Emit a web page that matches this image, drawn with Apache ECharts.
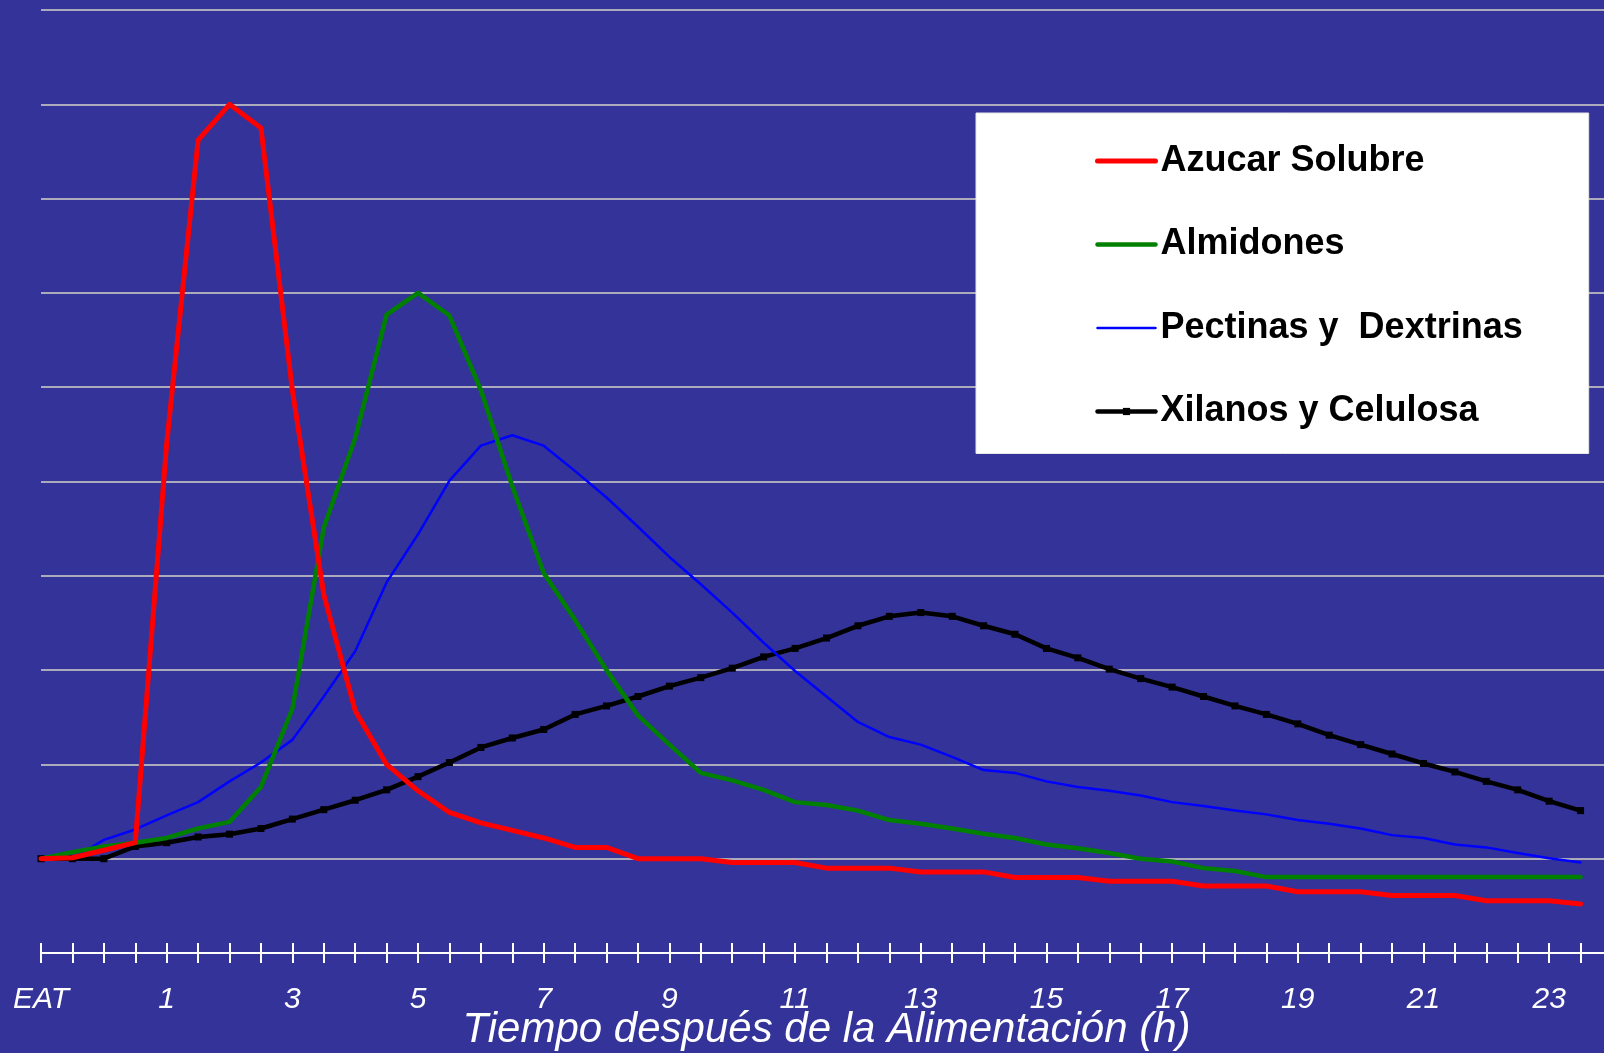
<!DOCTYPE html>
<html lang="es">
<head>
<meta charset="utf-8">
<title>Tiempo después de la Alimentación</title>
<script src="https://cdn.jsdelivr.net/npm/echarts@6/dist/echarts.min.js"></script>
<style>
  html, body { margin: 0; padding: 0; background: #333399; }
  #chart { width: 1604px; height: 1053px; }
</style>
</head>
<body>
<div id="chart"></div>
<script>
// Sampling times (h), every half hour; the first sample is the "EAT" reading
const hours = [-1, -0.5, 0, 0.5, 1, 1.5, 2, 2.5, 3, 3.5,
  4, 4.5, 5, 5.5, 6, 6.5, 7, 7.5, 8, 8.5,
  9, 9.5, 10, 10.5, 11, 11.5, 12, 12.5, 13, 13.5,
  14, 14.5, 15, 15.5, 16, 16.5, 17, 17.5, 18, 18.5,
  19, 19.5, 20, 20.5, 21, 21.5, 22, 22.5, 23, 23.5];

// Labelled ticks on the time axis
const labelHours = [-1, 1, 3, 5, 7, 9, 11, 13, 15, 17, 19, 21, 23];
const labelTexts = ['EAT', '1', '3', '5', '7', '9', '11', '13', '15', '17', '19', '21', '23'];

const seriesNames = ['Azucar Solubre', 'Almidones', 'Pectinas y  Dextrinas', 'Xilanos y Celulosa'];

const azucar = [0, 0.1, 0.9, 1.7, 44, 76.2, 80, 77.5, 49.7, 28,
  15.7, 10, 7.2, 4.9, 3.8, 3.0, 2.2, 1.2, 1.2, 0,
  0, 0, -0.4, -0.4, -0.4, -1.0, -1.0, -1.0, -1.4, -1.4,
  -1.4, -2.0, -2.0, -2.0, -2.4, -2.4, -2.4, -2.9, -2.9, -2.9,
  -3.5, -3.5, -3.5, -3.9, -3.9, -3.9, -4.45, -4.45, -4.45, -4.8];

const almidones = [0, 0.7, 1.3, 1.7, 2.2, 3.2, 3.9, 7.6, 15.9, 35.1,
  44.6, 57.7, 60.0, 57.6, 49.7, 39.5, 30.3, 25.3, 20.0, 15.2,
  12.1, 9.1, 8.3, 7.3, 6.0, 5.7, 5.1, 4.1, 3.7, 3.2,
  2.65, 2.2, 1.5, 1.1, 0.6, 0, -0.3, -1.0, -1.3, -1.95,
  -1.95, -1.95, -1.95, -1.95, -1.95, -1.95, -1.95, -1.95, -1.95, -1.95];

const pectinas = [0, 0, 2.0, 3.1, 4.6, 6.0, 8.2, 10.2, 12.6, 17.2,
  22.0, 29.3, 34.4, 40.1, 43.8, 44.9, 43.8, 41.1, 38.3, 35.2,
  32.0, 29.1, 26.1, 22.9, 19.9, 17.2, 14.5, 12.9, 12.1, 10.8,
  9.4, 9.1, 8.2, 7.6, 7.2, 6.7, 6.0, 5.6, 5.1, 4.7,
  4.1, 3.7, 3.2, 2.5, 2.2, 1.5, 1.2, 0.6, 0.05, -0.4];

const xilanos = [0, 0, 0, 1.3, 1.7, 2.3, 2.6, 3.2, 4.2, 5.2,
  6.2, 7.3, 8.7, 10.2, 11.8, 12.8, 13.7, 15.3, 16.2, 17.2,
  18.3, 19.2, 20.2, 21.4, 22.3, 23.4, 24.7, 25.7, 26.1, 25.7,
  24.7, 23.8, 22.3, 21.3, 20.1, 19.1, 18.2, 17.2, 16.2, 15.3,
  14.3, 13.1, 12.1, 11.1, 10.1, 9.2, 8.2, 7.3, 6.1, 5.1];

const pairs = vals => hours.map((h, i) => [h, vals[i]]);

const chartHeight = 1053;
const gridTop = 10;
const gridBottom = 100;
const font = '"Liberation Sans", Arial, Helvetica, sans-serif';

const lineColors = ['#ff0000', '#008000', '#0000ff', '#000000'];
const lineWidths = [5, 4.5, 2.5, 4.5];

const chart = echarts.init(document.getElementById('chart'), null, { renderer: 'canvas' });

const baseX = {
  type: 'value',
  min: -1,
  max: 24,
  interval: 0.5,
  splitLine: { show: false }
};

// plain lines in the legend: hide the marker for series drawn without symbols
const noMarker = { opacity: 0 };
const legendLine = k => ({ color: lineColors[k], width: lineWidths[k], cap: 'round' });

chart.setOption({
  backgroundColor: '#333399',
  animation: false,
  grid: {
    left: 41, right: -8, top: gridTop, bottom: gridBottom,
    containLabel: false, outerBoundsMode: 'none'
  },
  xAxis: [
    Object.assign({}, baseX, {
      position: 'bottom',
      axisLine: { show: true, onZero: false, lineStyle: { color: '#ffffff', width: 2 } },
      axisTick: { show: true, inside: false, length: 10, lineStyle: { color: '#ffffff', width: 2 } },
      axisLabel: {
        show: true,
        margin: 32,
        showMinLabel: true,
        showMaxLabel: true,
        color: '#ffffff',
        fontSize: 30,
        fontStyle: 'italic',
        fontFamily: font,
        formatter: v => {
          const k = labelHours.findIndex(h => Math.abs(h - v) < 1e-6);
          return k >= 0 ? labelTexts[k] : '';
        }
      },
      name: 'Tiempo después de la Alimentación (h)',
      nameLocation: 'middle',
      nameGap: 56,
      nameMoveOverlap: false,
      nameTextStyle: { color: '#ffffff', fontSize: 42, fontStyle: 'italic', fontFamily: font }
    }),
    // upper half of the cross-shaped ticks, laid on the same baseline
    Object.assign({}, baseX, {
      position: 'top',
      offset: -(chartHeight - gridTop - gridBottom),
      axisLine: { show: false },
      axisTick: { show: true, inside: false, length: 10, lineStyle: { color: '#ffffff', width: 2 } },
      axisLabel: { show: false }
    })
  ],
  yAxis: {
    type: 'value',
    min: -10,
    max: 90,
    interval: 10,
    axisLine: { show: false },
    axisTick: { show: false },
    axisLabel: { show: false },
    splitLine: { show: true, lineStyle: { color: '#d4d4c8', width: 1.5 } }
  },
  legend: {
    orient: 'vertical',
    left: 976,
    top: 113,
    data: [
      { name: seriesNames[0], itemStyle: noMarker, lineStyle: legendLine(0) },
      { name: seriesNames[1], itemStyle: noMarker, lineStyle: legendLine(1) },
      { name: seriesNames[2], itemStyle: noMarker, lineStyle: legendLine(2) },
      { name: seriesNames[3], lineStyle: legendLine(3) }
    ],
    backgroundColor: '#ffffff',
    borderColor: '#e6e6e6',
    borderWidth: 1,
    borderRadius: 0,
    padding: [28, 66, 22, 119],
    itemWidth: 58,
    itemHeight: 9,
    itemGap: 43.5,
    selectedMode: false,
    textStyle: {
      color: '#000000', fontSize: 36, fontWeight: 'bold', fontFamily: font, lineHeight: 40
    }
  },
  series: [
    {
      name: seriesNames[3], type: 'line', data: pairs(xilanos), z: 2,
      symbol: 'rect', symbolSize: 7, showAllSymbol: true,
      itemStyle: { color: lineColors[3] },
      lineStyle: { color: lineColors[3], width: lineWidths[3], join: 'round', cap: 'round' }
    },
    {
      name: seriesNames[2], type: 'line', data: pairs(pectinas), z: 3,
      symbol: 'none',
      itemStyle: { color: lineColors[2] },
      lineStyle: { color: lineColors[2], width: lineWidths[2], join: 'round', cap: 'round' }
    },
    {
      name: seriesNames[1], type: 'line', data: pairs(almidones), z: 4,
      symbol: 'none',
      itemStyle: { color: lineColors[1] },
      lineStyle: { color: lineColors[1], width: lineWidths[1], join: 'round', cap: 'round' }
    },
    {
      name: seriesNames[0], type: 'line', data: pairs(azucar), z: 5,
      symbol: 'none',
      itemStyle: { color: lineColors[0] },
      lineStyle: { color: lineColors[0], width: lineWidths[0], join: 'round', cap: 'round' }
    }
  ]
});
</script>
</body>
</html>
